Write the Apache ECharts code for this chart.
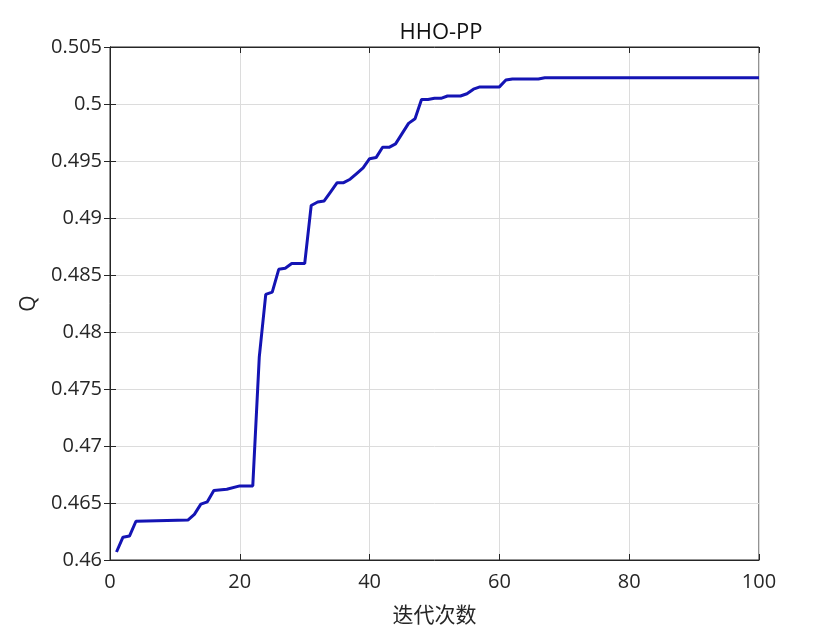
<!DOCTYPE html>
<html>
<head>
<meta charset="utf-8">
<script src="https://cdn.jsdelivr.net/npm/echarts@6/dist/echarts.min.js"></script>
<style>
	html, body { margin: 0; padding: 0; background: #fff; }
	#chart { width: 840px; height: 630px; }
</style>
</head>
<body>
<div id="chart"></div>
<script>
// breakpoints of the convergence curve
var iters = [1, 2, 3, 4, 12, 13, 14, 15, 16, 18, 20, 22, 23, 24, 25, 26, 27, 28, 30,
	31, 32, 33, 34, 35, 36, 37, 38, 39, 40, 41, 42, 43, 44, 45, 46, 47, 48, 49, 50,
	51, 52, 53, 54, 55, 56, 57, 60, 61, 62, 66, 67, 100];
var qValues = [0.4607, 0.4620, 0.4621, 0.4634, 0.4635, 0.4640, 0.4649, 0.4651, 0.4661, 0.4662,
	0.4665, 0.4665, 0.4778, 0.4833, 0.4835, 0.4855, 0.4856, 0.4860, 0.4860,
	0.4911, 0.4914, 0.4915, 0.4923, 0.4931, 0.4931, 0.4934, 0.4939, 0.4944, 0.4952,
	0.4953, 0.4962, 0.4962, 0.4965, 0.4974, 0.4983, 0.4987, 0.5004, 0.5004, 0.5005,
	0.5005, 0.5007, 0.5007, 0.5007, 0.5009, 0.5013, 0.5015, 0.5015, 0.5021, 0.5022,
	0.5022, 0.5023, 0.5023];

var titleText = 'HHO-PP';
var xName = '迭代次数';
var yName = 'Q';

var font = '"Open Sans", "Noto Sans CJK SC", sans-serif';
var cjkFont = '"Noto Sans CJK SC", sans-serif';
var ink = '#262626';

var chart = echarts.init(document.getElementById('chart'));

var lineData = iters.map(function (x, i) { return [x, qValues[i]]; });

var option = {
	animation: false,
	backgroundColor: '#fff',
	title: {
		text: titleText,
		left: 436,
		textAlign: 'center',
		top: 17,
		textStyle: { fontFamily: font, fontSize: 22, fontWeight: 'normal', color: '#111' }
	},
	grid: {
		left: 110, right: 81, top: 47, bottom: 69,
		show: true, borderColor: ink, borderWidth: 1, backgroundColor: '#fff'
	},
	xAxis: [{
		type: 'value',
		min: 0, max: 100, interval: 20,
		name: xName,
		nameLocation: 'middle',
		nameGap: 44,
		nameTextStyle: { fontFamily: cjkFont, fontSize: 21, color: ink },
		axisLine: { show: true, lineStyle: { color: ink } },
		axisTick: { show: true, inside: true, length: 6, lineStyle: { color: ink } },
		axisLabel: { fontFamily: font, fontSize: 20, color: ink, margin: 12 },
		splitLine: { show: true, lineStyle: { color: '#dcdcdc' } }
	}, {
		type: 'value',
		position: 'top',
		min: 0, max: 100, interval: 20,
		axisLine: { show: true, lineStyle: { color: ink } },
		axisTick: { show: true, inside: true, length: 6, lineStyle: { color: ink } },
		axisLabel: { show: false },
		splitLine: { show: false }
	}],
	yAxis: [{
		type: 'value',
		min: 0.46, max: 0.505, interval: 0.005,
		name: yName,
		nameLocation: 'middle',
		nameGap: 70,
		nameTextStyle: { fontFamily: font, fontSize: 21, color: ink },
		axisLine: { show: true, lineStyle: { color: ink } },
		axisTick: { show: true, inside: true, length: 6, lineStyle: { color: ink } },
		axisLabel: {
			fontFamily: font, fontSize: 20, color: ink, margin: 8,
			formatter: function (v) { return String(+v.toFixed(3)); }
		},
		splitLine: { show: true, lineStyle: { color: '#dcdcdc' } }
	}, {
		type: 'value',
		position: 'right',
		min: 0.46, max: 0.505, interval: 0.005,
		axisLine: { show: true, lineStyle: { color: ink } },
		axisTick: { show: true, inside: true, length: 6, lineStyle: { color: ink } },
		axisLabel: { show: false },
		splitLine: { show: false }
	}],
	series: [{
		type: 'line',
		data: lineData,
		showSymbol: false,
		lineStyle: { color: '#1414b4', width: 3 },
		z: 3
	}]
};

chart.setOption(option);
</script>
</body>
</html>
